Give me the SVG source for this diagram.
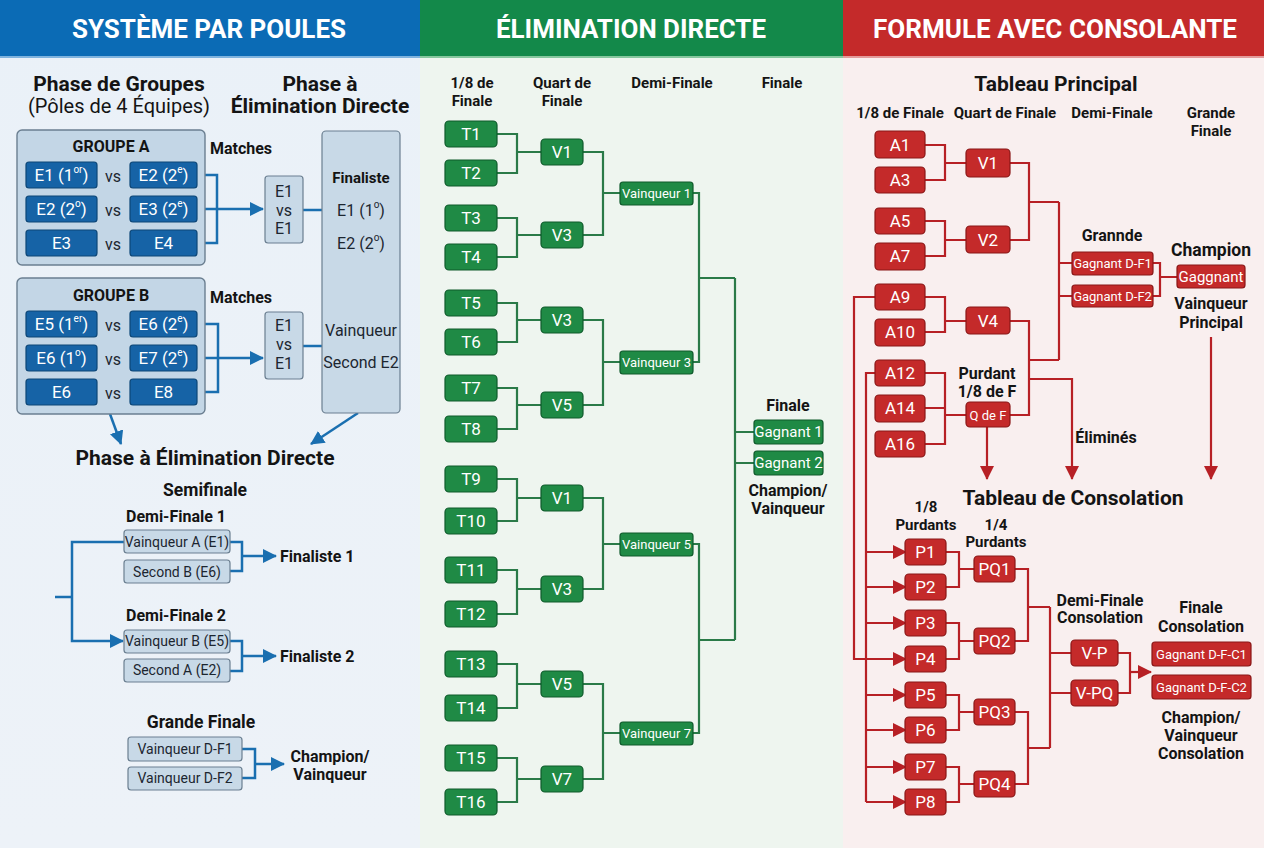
<svg xmlns="http://www.w3.org/2000/svg" width="1264" height="848" viewBox="0 0 1264 848">
  <style>
    text { font-family: Roboto, "Liberation Sans", sans-serif; dominant-baseline: central; text-anchor: middle; fill: #141414; }
    .hdr { font-size: 26px; font-weight: 700; fill: #ffffff; }
    .h1 { font-size: 21px; font-weight: 700; }
    .h1r { font-size: 20px; font-weight: 400; }
    .h2 { font-size: 16px; font-weight: 700; }
    .h17 { font-size: 17.5px; font-weight: 700; }
    .h3 { font-size: 15px; font-weight: 700; }
    .r16 { font-size: 16px; font-weight: 400; fill: #1c2630; }
    .start { text-anchor: start; }
    .w17 { font-size: 17px; fill: #ffffff; }
    .w15 { font-size: 15px; fill: #ffffff; }
    .w13 { font-size: 13px; fill: #ffffff; }
    .d14 { font-size: 14px; fill: #1c2630; }
    .blue { fill: #1663a6; stroke: #0c4677; stroke-width: 1.2; }
    .pale { fill: #c8d9e7; stroke: #6b7f91; stroke-width: 1.2; }
    .grp { fill: #c3d6e6; stroke: #6b7f91; stroke-width: 1.4; }
    .green { fill: #1f8a45; stroke: #0e5a2b; stroke-width: 1.2; }
    .red { fill: #c42a2a; stroke: #8a1717; stroke-width: 1.2; }
    .lb { fill: none; stroke: #1a6fb0; stroke-width: 2.5; }
    .lg { fill: none; stroke: #2a7a48; stroke-width: 2.2; }
    .lr { fill: none; stroke: #b72025; stroke-width: 2.2; }
  </style>
  <defs>
    <marker id="ab" markerUnits="userSpaceOnUse" markerWidth="14" markerHeight="14" refX="13" refY="7" orient="auto">
      <path d="M0,0 L14,7 L0,14 z" fill="#1a6fb0"/>
    </marker>
    <marker id="ar" markerUnits="userSpaceOnUse" markerWidth="14" markerHeight="14" refX="13" refY="7" orient="auto">
      <path d="M0,0 L14,7 L0,14 z" fill="#b72025"/>
    </marker>
    <linearGradient id="bgL" x1="0" y1="0" x2="0" y2="1">
      <stop offset="0" stop-color="#eaf1f8"/>
      <stop offset="1" stop-color="#edf2f8"/>
    </linearGradient>
  </defs>

  <!-- panel backgrounds -->
  <rect x="0" y="0" width="420" height="848" fill="url(#bgL)"/>
  <rect x="420" y="0" width="423" height="848" fill="#eef5ef"/>
  <rect x="843" y="0" width="421" height="848" fill="#f9efef"/>

  <!-- header bars -->
  <g id="header">
    <rect x="0" y="0" width="420" height="57" fill="#0b6bb5"/>
    <rect x="420" y="0" width="423" height="57" fill="#13894a"/>
    <rect x="843" y="0" width="421" height="57" fill="#c42a2a"/>
    <rect x="0" y="56" width="420" height="2" fill="#7fb3de"/>
    <rect x="420" y="56" width="423" height="2" fill="#86c79e"/>
    <rect x="843" y="56" width="421" height="2" fill="#e39b9b"/>
    <text class="hdr" x="209" y="29" textLength="274" lengthAdjust="spacingAndGlyphs">SYSTÈME PAR POULES</text>
    <text class="hdr" x="631" y="29" textLength="270" lengthAdjust="spacingAndGlyphs">ÉLIMINATION DIRECTE</text>
    <text class="hdr" x="1055" y="29" textLength="364" lengthAdjust="spacingAndGlyphs">FORMULE AVEC CONSOLANTE</text>
  </g>

  <!-- ===================== connectors ===================== -->
  <g id="connectors">
    <!-- pools panel -->
    <path class="lb" d="M197,175 H217 V243 H197"/>
    <path class="lb" d="M197,209 H263" marker-end="url(#ab)"/>
    <path class="lb" d="M303,210 H322"/>
    <path class="lb" d="M197,324 H218 V392 H197"/>
    <path class="lb" d="M197,358 H263" marker-end="url(#ab)"/>
    <path class="lb" d="M303,346 H322"/>
    <path class="lb" d="M110,414 L121,444" marker-end="url(#ab)"/>
    <path class="lb" d="M358,413 L311,444" marker-end="url(#ab)"/>
    <path class="lb" d="M230,542 H242 V571 H230"/>
    <path class="lb" d="M242,556 H276" marker-end="url(#ab)"/>
    <path class="lb" d="M230,641 H242 V671 H230"/>
    <path class="lb" d="M242,656 H276" marker-end="url(#ab)"/>
    <path class="lb" d="M124,542 H72 V641 H123" marker-end="url(#ab)"/>
    <path class="lb" d="M55,597 H72"/>
    <path class="lb" d="M242,749 H255 V778 H242"/>
    <path class="lb" d="M255,764 H284" marker-end="url(#ab)"/>

    <!-- single elimination panel -->
    <path class="lg" d="M497,134 H517 V173 H497 M517,152 H541"/>
    <path class="lg" d="M497,218 H517 V257 H497 M517,235 H541"/>
    <path class="lg" d="M497,303 H517 V342 H497 M517,320 H541"/>
    <path class="lg" d="M497,388 H517 V429 H497 M517,405 H541"/>
    <path class="lg" d="M497,479 H517 V521 H497 M517,498 H541"/>
    <path class="lg" d="M497,570 H517 V614 H497 M517,589 H541"/>
    <path class="lg" d="M497,664 H517 V708 H497 M517,684 H541"/>
    <path class="lg" d="M497,758 H517 V802 H497 M517,779 H541"/>
    <path class="lg" d="M583,152 H603 V235 H583 M603,193 H620"/>
    <path class="lg" d="M583,320 H603 V405 H583 M603,362 H620"/>
    <path class="lg" d="M583,498 H603 V589 H583 M603,544 H620"/>
    <path class="lg" d="M583,684 H603 V779 H583 M603,733 H620"/>
    <path class="lg" d="M693,193 H699 V362 H693 M699,278 H735"/>
    <path class="lg" d="M693,544 H699 V733 H693 M699,640 H735"/>
    <path class="lg" d="M735,278 V640 M735,432 H754 M735,463 H754"/>

    <!-- consolation panel: main draw -->
    <path class="lr" d="M925,145 H945 V180 H925 M945,163 H966"/>
    <path class="lr" d="M925,221 H945 V256 H925 M945,240 H966"/>
    <path class="lr" d="M925,297 H945 V332 H925 M945,321 H966"/>
    <path class="lr" d="M925,373 H945 V444 H925 M925,408 H945 M945,415 H966"/>
    <path class="lr" d="M1010,163 H1029 V240 H1010 M1029,202 H1059"/>
    <path class="lr" d="M1010,321 H1029 V415 H1010 M1029,360 H1059"/>
    <path class="lr" d="M1059,202 V360 M1059,263 H1072 M1059,296 H1072"/>
    <path class="lr" d="M1153,263 H1160 V296 H1153 M1160,277 H1177"/>
    <path class="lr" d="M1029,379 H1072 V479" marker-end="url(#ar)"/>
    <path class="lr" d="M987,427 V479" marker-end="url(#ar)"/>
    <path class="lr" d="M1211,337 V479" marker-end="url(#ar)"/>
    <!-- losers feed into the consolation draw -->
    <path class="lr" d="M875,297 H854 V659 H906" marker-end="url(#ar)"/>
    <path class="lr" d="M875,373 H866 V802"/>
    <path class="lr" d="M866,552 H906" marker-end="url(#ar)"/>
    <path class="lr" d="M866,587 H906" marker-end="url(#ar)"/>
    <path class="lr" d="M866,623 H906" marker-end="url(#ar)"/>
    <path class="lr" d="M866,695 H906" marker-end="url(#ar)"/>
    <path class="lr" d="M866,730 H906" marker-end="url(#ar)"/>
    <path class="lr" d="M866,767 H906" marker-end="url(#ar)"/>
    <path class="lr" d="M866,802 H906" marker-end="url(#ar)"/>
    <!-- consolation draw -->
    <path class="lr" d="M946,552 H959 V587 H946 M959,569 H974"/>
    <path class="lr" d="M946,623 H959 V659 H946 M959,641 H974"/>
    <path class="lr" d="M946,695 H959 V730 H946 M959,712 H974"/>
    <path class="lr" d="M946,767 H959 V802 H946 M959,784 H974"/>
    <path class="lr" d="M1015,569 H1028 V641 H1015 M1028,607 H1050"/>
    <path class="lr" d="M1015,712 H1028 V784 H1015 M1028,748 H1050"/>
    <path class="lr" d="M1050,607 V748 M1050,653 H1071 M1050,693 H1071"/>
    <path class="lr" d="M1118,653 H1130 V693 H1118"/>
    <path class="lr" d="M1130,672 H1151" marker-end="url(#ar)"/>
  </g>

  <!-- ===================== pools panel ===================== -->
  <g id="pools-titles">
    <text class="h1" x="119" y="84">Phase de Groupes</text>
    <text class="h1r" x="119" y="106">(Pôles de 4 Équipes)</text>
    <text class="h1" x="320" y="84">Phase à</text>
    <text class="h1" x="320" y="106">Élimination Directe</text>
  </g>

  <g id="groupe-a">
    <rect class="grp" x="17" y="130" width="188" height="135" rx="5"/>
    <text class="h2" x="111" y="146">GROUPE A</text>
    <rect class="blue" x="26" y="162" width="71" height="26" rx="3"/>
    <text class="w17" x="61.5" y="175">E1 (1<tspan font-size="10" dy="-6">or</tspan><tspan dy="6">)</tspan></text>
    <text class="r16" x="113" y="176">vs</text>
    <rect class="blue" x="130" y="162" width="67" height="26" rx="3"/>
    <text class="w17" x="163.5" y="175">E2 (2<tspan font-size="10" dy="-6">e</tspan><tspan dy="6">)</tspan></text>
    <rect class="blue" x="26" y="196" width="71" height="26" rx="3"/>
    <text class="w17" x="61.5" y="209">E2 (2<tspan font-size="10" dy="-6">o</tspan><tspan dy="6">)</tspan></text>
    <text class="r16" x="113" y="210">vs</text>
    <rect class="blue" x="130" y="196" width="67" height="26" rx="3"/>
    <text class="w17" x="163.5" y="209">E3 (2<tspan font-size="10" dy="-6">e</tspan><tspan dy="6">)</tspan></text>
    <rect class="blue" x="26" y="230" width="71" height="26" rx="3"/>
    <text class="w17" x="61.5" y="243">E3</text>
    <text class="r16" x="113" y="244">vs</text>
    <rect class="blue" x="130" y="230" width="67" height="26" rx="3"/>
    <text class="w17" x="163.5" y="243">E4</text>
  </g>

  <g id="matches-a">
    <text class="h2" x="241" y="148">Matches</text>
    <rect class="pale" x="265" y="176" width="38" height="67" rx="3"/>
    <text class="r16" x="284" y="191">E1</text>
    <text class="r16" x="284" y="210">vs</text>
    <text class="r16" x="284" y="228">E1</text>
  </g>

  <g id="finalistes">
    <rect class="pale" x="322" y="131" width="78" height="282" rx="4"/>
    <text class="h3" x="361" y="178">Finaliste</text>
    <text class="r16" x="361" y="210">E1 (1<tspan font-size="10" dy="-6">o</tspan><tspan dy="6">)</tspan></text>
    <text class="r16" x="361" y="243">E2 (2<tspan font-size="10" dy="-6">o</tspan><tspan dy="6">)</tspan></text>
    <text class="r16" x="361" y="330">Vainqueur</text>
    <text class="r16" x="361" y="362">Second E2</text>
  </g>

  <g id="groupe-b">
    <rect class="grp" x="17" y="278" width="188" height="136" rx="5"/>
    <text class="h2" x="111" y="295">GROUPE B</text>
    <rect class="blue" x="26" y="311" width="71" height="26" rx="3"/>
    <text class="w17" x="61.5" y="324">E5 (1<tspan font-size="10" dy="-6">er</tspan><tspan dy="6">)</tspan></text>
    <text class="r16" x="113" y="325">vs</text>
    <rect class="blue" x="130" y="311" width="67" height="26" rx="3"/>
    <text class="w17" x="163.5" y="324">E6 (2<tspan font-size="10" dy="-6">e</tspan><tspan dy="6">)</tspan></text>
    <rect class="blue" x="26" y="345" width="71" height="26" rx="3"/>
    <text class="w17" x="61.5" y="358">E6 (1<tspan font-size="10" dy="-6">o</tspan><tspan dy="6">)</tspan></text>
    <text class="r16" x="113" y="359">vs</text>
    <rect class="blue" x="130" y="345" width="67" height="26" rx="3"/>
    <text class="w17" x="163.5" y="358">E7 (2<tspan font-size="10" dy="-6">e</tspan><tspan dy="6">)</tspan></text>
    <rect class="blue" x="26" y="379" width="71" height="26" rx="3"/>
    <text class="w17" x="61.5" y="392">E6</text>
    <text class="r16" x="113" y="393">vs</text>
    <rect class="blue" x="130" y="379" width="67" height="26" rx="3"/>
    <text class="w17" x="163.5" y="392">E8</text>
  </g>

  <g id="matches-b">
    <text class="h2" x="241" y="297">Matches</text>
    <rect class="pale" x="265" y="312" width="38" height="67" rx="3"/>
    <text class="r16" x="284" y="325">E1</text>
    <text class="r16" x="284" y="344">vs</text>
    <text class="r16" x="284" y="363">E1</text>
  </g>

  <g id="knockout-titles">
    <text class="h1" x="205" y="458">Phase à Élimination Directe</text>
    <text class="h17" x="205" y="490">Semifinale</text>
  </g>

  <g id="demi-finale-1">
    <text class="h2" x="176" y="516">Demi-Finale 1</text>
    <rect class="pale" x="124" y="530" width="106" height="23" rx="3"/>
    <text class="d14" x="177" y="542">Vainqueur A (E1)</text>
    <rect class="pale" x="124" y="560" width="106" height="23" rx="3"/>
    <text class="d14" x="177" y="572">Second B (E6)</text>
    <text class="h2 start" x="280" y="556">Finaliste 1</text>
  </g>

  <g id="demi-finale-2">
    <text class="h2" x="176" y="615">Demi-Finale 2</text>
    <rect class="pale" x="124" y="630" width="106" height="23" rx="3"/>
    <text class="d14" x="177" y="641">Vainqueur B (E5)</text>
    <rect class="pale" x="124" y="659" width="106" height="23" rx="3"/>
    <text class="d14" x="177" y="670">Second A (E2)</text>
    <text class="h2 start" x="280" y="656">Finaliste 2</text>
  </g>

  <g id="grande-finale">
    <text class="h17" x="201" y="722">Grande Finale</text>
    <rect class="pale" x="128" y="737" width="114" height="24" rx="3"/>
    <text class="d14" x="185" y="749">Vainqueur D-F1</text>
    <rect class="pale" x="128" y="767" width="114" height="23" rx="3"/>
    <text class="d14" x="185" y="778">Vainqueur D-F2</text>
    <text class="h2" x="330" y="756">Champion/</text>
    <text class="h2" x="330" y="774">Vainqueur</text>
  </g>

  <!-- ===================== single elimination panel ===================== -->
  <g id="se-headers">
    <text class="h3" x="472" y="83">1/8 de</text>
    <text class="h3" x="472" y="101">Finale</text>
    <text class="h3" x="562" y="83">Quart de</text>
    <text class="h3" x="562" y="101">Finale</text>
    <text class="h3" x="672" y="83">Demi-Finale</text>
    <text class="h3" x="782" y="83">Finale</text>
  </g>

  <g id="t1"><rect class="green" x="445" y="121" width="52" height="26" rx="4"/><text class="w17" x="471" y="134">T1</text></g>
  <g id="t2"><rect class="green" x="445" y="160" width="52" height="26" rx="4"/><text class="w17" x="471" y="173">T2</text></g>
  <g id="t3"><rect class="green" x="445" y="205" width="52" height="26" rx="4"/><text class="w17" x="471" y="218">T3</text></g>
  <g id="t4"><rect class="green" x="445" y="244" width="52" height="26" rx="4"/><text class="w17" x="471" y="257">T4</text></g>
  <g id="t5"><rect class="green" x="445" y="290" width="52" height="26" rx="4"/><text class="w17" x="471" y="303">T5</text></g>
  <g id="t6"><rect class="green" x="445" y="329" width="52" height="26" rx="4"/><text class="w17" x="471" y="342">T6</text></g>
  <g id="t7"><rect class="green" x="445" y="375" width="52" height="26" rx="4"/><text class="w17" x="471" y="388">T7</text></g>
  <g id="t8"><rect class="green" x="445" y="416" width="52" height="26" rx="4"/><text class="w17" x="471" y="429">T8</text></g>
  <g id="t9"><rect class="green" x="445" y="466" width="52" height="26" rx="4"/><text class="w17" x="471" y="479">T9</text></g>
  <g id="t10"><rect class="green" x="445" y="508" width="52" height="26" rx="4"/><text class="w17" x="471" y="521">T10</text></g>
  <g id="t11"><rect class="green" x="445" y="557" width="52" height="26" rx="4"/><text class="w17" x="471" y="570">T11</text></g>
  <g id="t12"><rect class="green" x="445" y="601" width="52" height="26" rx="4"/><text class="w17" x="471" y="614">T12</text></g>
  <g id="t13"><rect class="green" x="445" y="651" width="52" height="26" rx="4"/><text class="w17" x="471" y="664">T13</text></g>
  <g id="t14"><rect class="green" x="445" y="695" width="52" height="26" rx="4"/><text class="w17" x="471" y="708">T14</text></g>
  <g id="t15"><rect class="green" x="445" y="745" width="52" height="26" rx="4"/><text class="w17" x="471" y="758">T15</text></g>
  <g id="t16"><rect class="green" x="445" y="789" width="52" height="26" rx="4"/><text class="w17" x="471" y="802">T16</text></g>

  <g id="q1"><rect class="green" x="541" y="139" width="42" height="26" rx="4"/><text class="w17" x="562" y="152">V1</text></g>
  <g id="q2"><rect class="green" x="541" y="222" width="42" height="26" rx="4"/><text class="w17" x="562" y="235">V3</text></g>
  <g id="q3"><rect class="green" x="541" y="307" width="42" height="26" rx="4"/><text class="w17" x="562" y="320">V3</text></g>
  <g id="q4"><rect class="green" x="541" y="392" width="42" height="26" rx="4"/><text class="w17" x="562" y="405">V5</text></g>
  <g id="q5"><rect class="green" x="541" y="485" width="42" height="26" rx="4"/><text class="w17" x="562" y="498">V1</text></g>
  <g id="q6"><rect class="green" x="541" y="576" width="42" height="26" rx="4"/><text class="w17" x="562" y="589">V3</text></g>
  <g id="q7"><rect class="green" x="541" y="671" width="42" height="26" rx="4"/><text class="w17" x="562" y="684">V5</text></g>
  <g id="q8"><rect class="green" x="541" y="766" width="42" height="26" rx="4"/><text class="w17" x="562" y="779">V7</text></g>

  <g id="sf1"><rect class="green" x="620" y="182" width="73" height="23" rx="3"/><text class="w13" x="656.5" y="193.5">Vainqueur 1</text></g>
  <g id="sf2"><rect class="green" x="620" y="351" width="73" height="23" rx="3"/><text class="w13" x="656.5" y="362.5">Vainqueur 3</text></g>
  <g id="sf3"><rect class="green" x="620" y="533" width="73" height="23" rx="3"/><text class="w13" x="656.5" y="544.5">Vainqueur 5</text></g>
  <g id="sf4"><rect class="green" x="620" y="722" width="73" height="23" rx="3"/><text class="w13" x="656.5" y="733.5">Vainqueur 7</text></g>

  <g id="se-final">
    <text class="h2" x="788" y="405">Finale</text>
    <rect class="green" x="754" y="420" width="69" height="24" rx="3"/>
    <text class="w15" x="788.5" y="432">Gagnant 1</text>
    <rect class="green" x="754" y="451" width="69" height="24" rx="3"/>
    <text class="w15" x="788.5" y="463">Gagnant 2</text>
    <text class="h2" x="788" y="490">Champion/</text>
    <text class="h2" x="788" y="508">Vainqueur</text>
  </g>

  <!-- ===================== consolation panel ===================== -->
  <g id="main-draw-headers">
    <text class="h1" x="1056" y="84">Tableau Principal</text>
    <text class="h3" x="900" y="113">1/8 de Finale</text>
    <text class="h3" x="1005" y="113">Quart de Finale</text>
    <text class="h3" x="1112" y="113">Demi-Finale</text>
    <text class="h3" x="1211" y="113">Grande</text>
    <text class="h3" x="1211" y="131">Finale</text>
  </g>

  <g id="a1"><rect class="red" x="875" y="131" width="50" height="27" rx="4"/><text class="w17" x="900" y="145">A1</text></g>
  <g id="a3"><rect class="red" x="875" y="167" width="50" height="26" rx="4"/><text class="w17" x="900" y="180">A3</text></g>
  <g id="a5"><rect class="red" x="875" y="208" width="50" height="26" rx="4"/><text class="w17" x="900" y="221">A5</text></g>
  <g id="a7"><rect class="red" x="875" y="243" width="50" height="27" rx="4"/><text class="w17" x="900" y="256">A7</text></g>
  <g id="a9"><rect class="red" x="875" y="284" width="50" height="26" rx="4"/><text class="w17" x="900" y="297">A9</text></g>
  <g id="a10"><rect class="red" x="875" y="319" width="50" height="27" rx="4"/><text class="w17" x="900" y="332">A10</text></g>
  <g id="a12"><rect class="red" x="875" y="360" width="50" height="26" rx="4"/><text class="w17" x="900" y="373">A12</text></g>
  <g id="a14"><rect class="red" x="875" y="395" width="50" height="27" rx="4"/><text class="w17" x="900" y="408">A14</text></g>
  <g id="a16"><rect class="red" x="875" y="431" width="50" height="26" rx="4"/><text class="w17" x="900" y="444">A16</text></g>

  <g id="mv1"><rect class="red" x="966" y="149" width="44" height="28" rx="4"/><text class="w17" x="988" y="163">V1</text></g>
  <g id="mv2"><rect class="red" x="966" y="226" width="44" height="27" rx="4"/><text class="w17" x="988" y="240">V2</text></g>
  <g id="mv4"><rect class="red" x="966" y="307" width="44" height="27" rx="4"/><text class="w17" x="988" y="321">V4</text></g>
  <g id="qdf">
    <text class="h2" x="987" y="373">Purdant</text>
    <text class="h2" x="987" y="391">1/8 de F</text>
    <rect class="red" x="966" y="402" width="44" height="25" rx="4"/>
    <text class="w13" x="988" y="415">Q de F</text>
  </g>

  <g id="main-semis">
    <text class="h2" x="1112" y="235">Grannde</text>
    <rect class="red" x="1072" y="252" width="81" height="23" rx="3"/>
    <text class="w13" x="1112.5" y="263.5">Gagnant D-F1</text>
    <rect class="red" x="1072" y="285" width="81" height="22" rx="3"/>
    <text class="w13" x="1112.5" y="296">Gagnant D-F2</text>
  </g>

  <g id="main-final">
    <text class="h17" x="1211" y="250">Champion</text>
    <rect class="red" x="1177" y="265" width="68" height="23" rx="3"/>
    <text class="w15" x="1211" y="276.5">Gaggnant</text>
    <text class="h2" x="1211" y="303">Vainqueur</text>
    <text class="h2" x="1211" y="322">Principal</text>
  </g>

  <g id="elimines">
    <text class="h2" x="1106" y="437">Éliminés</text>
  </g>

  <g id="consolation-headers">
    <text class="h1" x="1073" y="498">Tableau de Consolation</text>
    <text class="h3" x="926" y="507">1/8</text>
    <text class="h3" x="926" y="525">Purdants</text>
    <text class="h3" x="996" y="525">1/4</text>
    <text class="h3" x="996" y="542">Purdants</text>
  </g>

  <g id="p1"><rect class="red" x="905" y="539" width="41" height="26" rx="4"/><text class="w17" x="925.5" y="552">P1</text></g>
  <g id="p2"><rect class="red" x="905" y="574" width="41" height="26" rx="4"/><text class="w17" x="925.5" y="587">P2</text></g>
  <g id="p3"><rect class="red" x="905" y="610" width="41" height="26" rx="4"/><text class="w17" x="925.5" y="623">P3</text></g>
  <g id="p4"><rect class="red" x="905" y="646" width="41" height="26" rx="4"/><text class="w17" x="925.5" y="659">P4</text></g>
  <g id="p5"><rect class="red" x="905" y="682" width="41" height="26" rx="4"/><text class="w17" x="925.5" y="695">P5</text></g>
  <g id="p6"><rect class="red" x="905" y="717" width="41" height="26" rx="4"/><text class="w17" x="925.5" y="730">P6</text></g>
  <g id="p7"><rect class="red" x="905" y="754" width="41" height="26" rx="4"/><text class="w17" x="925.5" y="767">P7</text></g>
  <g id="p8"><rect class="red" x="905" y="789" width="41" height="26" rx="4"/><text class="w17" x="925.5" y="802">P8</text></g>

  <g id="pq1"><rect class="red" x="974" y="556" width="41" height="26" rx="4"/><text class="w17" x="994.5" y="569">PQ1</text></g>
  <g id="pq2"><rect class="red" x="974" y="628" width="41" height="26" rx="4"/><text class="w17" x="994.5" y="641">PQ2</text></g>
  <g id="pq3"><rect class="red" x="974" y="699" width="41" height="26" rx="4"/><text class="w17" x="994.5" y="712">PQ3</text></g>
  <g id="pq4"><rect class="red" x="974" y="771" width="41" height="26" rx="4"/><text class="w17" x="994.5" y="784">PQ4</text></g>

  <g id="cons-semis">
    <text class="h2" x="1100" y="600">Demi-Finale</text>
    <text class="h2" x="1100" y="617">Consolation</text>
    <rect class="red" x="1071" y="640" width="47" height="26" rx="4"/>
    <text class="w17" x="1094.5" y="653">V-P</text>
    <rect class="red" x="1071" y="680" width="47" height="26" rx="4"/>
    <text class="w17" x="1094.5" y="693">V-PQ</text>
  </g>

  <g id="cons-final">
    <text class="h2" x="1201" y="607">Finale</text>
    <text class="h2" x="1201" y="626">Consolation</text>
    <rect class="red" x="1152" y="642" width="99" height="24" rx="3"/>
    <text class="w13" x="1201.5" y="654">Gagnant D-F-C1</text>
    <rect class="red" x="1152" y="675" width="99" height="24" rx="3"/>
    <text class="w13" x="1201.5" y="687">Gagnant D-F-C2</text>
    <text class="h2" x="1201" y="717">Champion/</text>
    <text class="h2" x="1201" y="735">Vainqueur</text>
    <text class="h2" x="1201" y="753">Consolation</text>
  </g>
</svg>
